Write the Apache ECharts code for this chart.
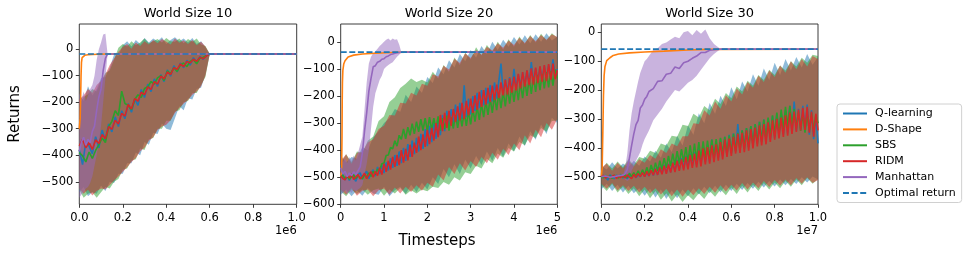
<!DOCTYPE html>
<html><head><meta charset="utf-8">
<script src="https://cdn.jsdelivr.net/npm/echarts@6.0.0/dist/echarts.min.js"></script>
<style>html,body{margin:0;padding:0;background:#fff}#c{width:969px;height:258px}</style>
</head><body><div id="c"></div>
<script>
// ---------- x grids (logged timesteps, in axis units: x1e6 / x1e6 / x1e7) ----------
function steps(start, step, n){const a=[];for(let i=0;i<n;i++)a.push(+(start+i*step).toFixed(4));return a;}

const names = ['Q-learning','D-Shape','SBS','RIDM','Manhattan','Optimal return'];
const titles = ['World Size 10','World Size 20','World Size 30'];
const optimal = [-18,-38,-58];
const yTicks1 = [-500,-400,-300,-200,-100,0];
const yTicks2 = [-600,-500,-400,-300,-200,-100,0];
const yTicks3 = [-500,-400,-300,-200,-100,0];

// ===== Panel 1 (World Size 10) =====
const p1X = steps(0,0.015,41).concat([1.0]);
const p1Q = [-380,-435,-350,-365,-395,-330,-372,-305,-345,-282,-312,-255,-292,-232,-262,-205,-238,-188,-212,-152,-182,-132,-160,-112,-140,-96,-122,-78,-102,-62,-86,-52,-70,-42,-60,-32,-48,-28,-38,-24,-18,-18];
const p1S = [-390,-402,-425,-388,-412,-382,-360,-335,-352,-292,-272,-232,-250,-158,-205,-212,-228,-190,-172,-182,-148,-142,-122,-132,-108,-100,-118,-82,-92,-70,-84,-60,-52,-66,-45,-40,-55,-34,-30,-24,-18,-18];
const p1R = [-365,-340,-372,-352,-378,-342,-356,-322,-338,-292,-302,-268,-282,-242,-252,-208,-226,-186,-196,-162,-172,-142,-152,-122,-132,-102,-112,-86,-96,-70,-76,-56,-66,-46,-52,-38,-46,-30,-36,-25,-18,-18];
const p1BX = steps(0,0.02,31);
const p1RUp = [-190,-175,-150,-165,-135,-120,-95,-60,-35,-10,8,20,2,25,12,30,18,35,22,38,28,18,40,24,34,20,35,15,28,10,-18];
const p1RLo = [-525,-545,-530,-552,-535,-525,-528,-512,-495,-480,-462,-445,-425,-410,-385,-372,-345,-332,-305,-292,-285,-268,-240,-222,-205,-192,-172,-160,-140,-100,-18];
const p1QUp = [-170,-195,-140,-175,-150,-110,-105,-70,-20,-25,15,30,10,35,20,42,25,40,30,45,20,35,45,30,40,25,42,20,30,8,-18];
const p1QLo = [-540,-520,-555,-540,-545,-515,-535,-500,-505,-470,-470,-430,-430,-390,-400,-350,-360,-315,-320,-280,-300,-305,-260,-215,-230,-185,-190,-150,-145,-95,-18];
const p1SUp = [-210,-180,-170,-150,-160,-120,-90,-80,-40,5,20,10,30,15,25,40,22,30,38,25,42,30,28,40,22,38,28,40,18,12,-18];
const p1SLo = [-530,-560,-545,-540,-560,-540,-520,-525,-500,-490,-455,-450,-420,-415,-375,-380,-340,-335,-300,-300,-270,-270,-235,-230,-200,-195,-165,-165,-135,-105,-18];
const p1MX = [0,0.01,0.02,0.03,0.04,0.05,0.06,0.07,0.08,0.09,0.1,0.11,0.12,0.13,1.0];
const p1M = [-385,-350,-332,-362,-340,-352,-310,-290,-230,-180,-150,-80,-35,-18,-18];
const p1MBX = [0,0.01,0.02,0.03,0.04,0.05,0.06,0.07,0.08,0.09,0.1,0.11,0.12,0.13];
const p1MUp = [-165,-190,-160,-195,-175,-150,-135,-100,-40,0,25,55,58,-18];
const p1MLo = [-560,-548,-540,-525,-520,-505,-480,-440,-400,-350,-290,-200,-110,-18];
const p1DX = [0,0.004,0.006,0.008,0.01,0.013,0.018,0.025,0.04,0.06,0.09,0.12,1.0];
const p1D = [-300,-260,-190,-100,-50,-32,-26,-23,-21,-20,-19,-18,-18];

// ===== Panel 2 (World Size 20) =====
const p2X = steps(0,0.05,101);
const p2R = [-495,-505,-510,-492,-503,-488,-508,-499,-490,-506,
 -497,-485,-505,-492,-480,-500,-478,-494,-465,-490,
 -450,-480,-440,-472,-425,-462,-418,-455,-400,-446,
 -395,-438,-380,-425,-372,-410,-350,-400,-342,-388,
 -325,-378,-318,-365,-300,-352,-270,-330,-262,-318,
 -255,-310,-248,-296,-238,-290,-225,-285,-218,-272,
 -210,-262,-198,-250,-185,-240,-178,-232,-170,-222,
 -162,-215,-158,-208,-150,-198,-140,-195,-135,-188,
 -128,-180,-118,-172,-112,-165,-105,-160,-98,-158,
 -95,-152,-90,-148,-86,-145,-82,-140,-80,-138,-105];
const p2Q = [-455,-492,-510,-496,-512,-488,-502,-515,-490,-484,
 -506,-490,-478,-505,-486,-472,-496,-462,-488,-455,
 -485,-445,-475,-430,-465,-418,-458,-405,-448,-392,
 -440,-378,-425,-365,-415,-355,-405,-340,-395,-322,
 -385,-310,-370,-300,-358,-285,-345,-270,-330,-255,
 -318,-248,-305,-232,-295,-225,-285,-160,-278,-210,
 -268,-200,-255,-188,-245,-178,-235,-170,-228,-160,
 -220,-150,-210,-145,-80,-190,-138,-185,-130,-180,
 -100,-172,-120,-165,-112,-160,-105,-155,-75,-150,
 -98,-145,-92,-140,-88,-138,-85,-132,-65,-130,-100];
const p2S = [-500,-492,-506,-496,-508,-499,-490,-505,-495,-501,
 -506,-490,-500,-484,-497,-478,-490,-470,-474,-450,
 -448,-420,-418,-390,-395,-365,-385,-345,-360,-322,
 -358,-315,-345,-302,-340,-295,-332,-285,-328,-282,
 -330,-278,-325,-282,-322,-275,-328,-282,-322,-272,
 -328,-278,-320,-270,-318,-265,-312,-260,-310,-255,
 -305,-248,-295,-240,-288,-228,-278,-218,-270,-208,
 -262,-198,-252,-188,-245,-182,-238,-172,-228,-165,
 -222,-158,-215,-150,-208,-142,-200,-135,-192,-128,
 -185,-122,-178,-118,-172,-112,-168,-108,-162,-102,-135];
const p2BX = steps(0,0.125,41);
const p2RUp = [-440,-415,-450,-410,-408,-372,-360,-322,-310,-270,-272,-225,-228,-188,-198,-155,-162,-120,-128,-88,-102,-62,-78,-42,-60,-30,-48,-18,-32,-5,-22,5,-12,15,-4,22,2,25,8,28,18];
const p2RLo = [-545,-565,-540,-568,-550,-545,-570,-548,-542,-565,-538,-560,-535,-555,-530,-550,-520,-535,-490,-512,-462,-488,-448,-475,-440,-462,-425,-448,-410,-435,-395,-418,-375,-400,-345,-375,-325,-352,-300,-325,-285];
const p2QUp = [-420,-445,-425,-432,-388,-400,-352,-330,-300,-282,-248,-258,-195,-222,-165,-188,-130,-152,-95,-120,-68,-95,-45,-72,-30,-58,-15,-45,0,-30,8,-18,18,-10,24,-5,28,0,32,5,20];
const p2QLo = [-565,-545,-570,-548,-568,-540,-560,-565,-535,-570,-548,-535,-562,-528,-555,-520,-545,-500,-525,-470,-500,-452,-488,-435,-468,-422,-455,-405,-440,-392,-425,-375,-405,-350,-385,-330,-362,-305,-340,-280,-300];
const p2SUp = [-448,-415,-445,-405,-410,-365,-350,-292,-275,-222,-205,-170,-155,-135,-148,-140,-150,-110,-135,-85,-110,-58,-85,-40,-65,-20,-50,-12,-38,0,-28,10,-18,20,-8,25,-2,30,5,32,15];
const p2SLo = [-552,-570,-545,-562,-545,-565,-548,-542,-568,-545,-560,-540,-565,-548,-560,-545,-552,-535,-540,-518,-528,-500,-512,-482,-488,-458,-468,-432,-448,-412,-428,-392,-405,-370,-382,-345,-355,-318,-332,-292,-290];
const p2MX = steps(0,0.05,29).concat([5]);
const p2M = [-465,-488,-478,-498,-484,-494,-480,-490,-476,-462,-410,-330,-262,-182,-135,-92,-88,-75,-72,-64,-62,-55,-52,-47,-45,-42,-40,-39,-38,-38];
const p2MBX = steps(0,0.05,29);
const p2MUp = [-420,-445,-430,-448,-425,-440,-420,-438,-410,-380,-350,-250,-150,-80,-55,-42,-35,-25,-15,-8,0,8,12,5,12,8,10,-10,-38];
const p2MLo = [-555,-560,-548,-562,-550,-558,-545,-552,-545,-540,-530,-490,-450,-400,-320,-240,-190,-165,-140,-125,-100,-92,-85,-80,-75,-65,-55,-48,-38];
const p2DX = [0,0.02,0.03,0.035,0.04,0.05,0.07,0.1,0.17,0.3,0.5,0.8,1.2,1.5,5];
const p2D = [-500,-480,-350,-220,-150,-105,-82,-70,-56,-49,-45,-42,-39,-38,-38];

// ===== Panel 3 (World Size 30) =====
const p3X = steps(0,0.01,101);
const p3R = [-500,-496,-505,-498,-504,-499,-495,-506,-498,-503,
 -497,-505,-494,-502,-507,-492,-503,-490,-500,-486,
 -500,-482,-498,-478,-495,-474,-494,-468,-492,-462,
 -490,-458,-486,-452,-484,-445,-480,-440,-478,-432,
 -475,-425,-470,-420,-468,-410,-465,-402,-458,-398,
 -455,-392,-450,-388,-445,-380,-440,-372,-432,-368,
 -428,-362,-420,-352,-418,-348,-415,-340,-410,-335,
 -402,-330,-395,-322,-392,-318,-388,-312,-380,-305,
 -372,-300,-368,-295,-362,-288,-358,-278,-352,-275,
 -345,-268,-340,-262,-338,-258,-348,-275,-362,-282,-340];
const p3Q = [-505,-496,-502,-512,-494,-500,-507,-495,-503,-492,
 -505,-496,-508,-494,-501,-490,-504,-493,-501,-485,
 -500,-486,-498,-478,-496,-472,-494,-466,-490,-460,
 -488,-456,-485,-450,-480,-442,-476,-436,-472,-428,
 -470,-420,-462,-415,-458,-405,-455,-398,-450,-390,
 -448,-372,-440,-382,-436,-370,-430,-362,-425,-355,
 -420,-350,-412,-318,-408,-340,-402,-332,-398,-325,
 -392,-318,-385,-310,-380,-302,-375,-298,-372,-290,
 -365,-282,-360,-278,-355,-270,-350,-255,-345,-240,
 -342,-265,-335,-255,-345,-250,-355,-270,-370,-290,-385];
const p3S = [-500,-504,-496,-503,-498,-506,-495,-501,-505,-494,
 -502,-492,-505,-488,-500,-486,-499,-480,-497,-476,
 -494,-468,-490,-460,-486,-452,-480,-445,-476,-436,
 -470,-428,-464,-420,-460,-412,-455,-405,-450,-398,
 -448,-392,-445,-386,-442,-380,-440,-378,-438,-375,
 -435,-372,-432,-370,-430,-366,-425,-362,-422,-358,
 -418,-352,-412,-348,-408,-340,-402,-332,-398,-325,
 -392,-318,-385,-310,-378,-302,-370,-295,-365,-288,
 -358,-278,-348,-268,-340,-258,-328,-255,-322,-265,
 -332,-275,-342,-280,-348,-285,-340,-278,-345,-285,-315];
const p3BX = steps(0,0.025,41);
const p3RUp = [-470,-455,-480,-452,-472,-445,-465,-440,-452,-425,-438,-405,-418,-385,-395,-360,-360,-315,-318,-270,-288,-240,-265,-218,-240,-195,-215,-172,-192,-150,-172,-132,-155,-115,-140,-100,-128,-92,-118,-82,-92];
const p3RLo = [-525,-542,-522,-548,-530,-550,-532,-555,-535,-558,-540,-562,-542,-568,-545,-570,-545,-565,-540,-560,-535,-556,-530,-552,-528,-548,-522,-545,-520,-540,-515,-536,-512,-532,-510,-530,-505,-525,-502,-522,-512];
const p3QUp = [-462,-475,-450,-472,-455,-468,-445,-462,-430,-448,-410,-435,-385,-415,-358,-392,-322,-355,-280,-315,-245,-282,-220,-255,-190,-232,-170,-205,-145,-185,-125,-165,-105,-148,-92,-132,-85,-122,-75,-112,-85];
const p3QLo = [-545,-525,-550,-528,-555,-532,-558,-540,-566,-542,-572,-545,-578,-548,-575,-545,-568,-540,-562,-535,-558,-532,-555,-528,-550,-525,-546,-522,-542,-518,-538,-515,-534,-510,-530,-508,-526,-502,-520,-500,-510];
const p3SUp = [-475,-452,-472,-448,-468,-440,-460,-432,-438,-410,-418,-385,-392,-358,-362,-320,-325,-282,-295,-255,-270,-230,-248,-210,-228,-188,-205,-168,-185,-148,-165,-130,-148,-115,-132,-100,-118,-88,-105,-78,-82];
const p3SLo = [-530,-550,-526,-555,-535,-560,-540,-568,-545,-575,-550,-580,-558,-586,-562,-588,-565,-582,-558,-578,-550,-570,-545,-565,-538,-560,-532,-555,-528,-550,-522,-545,-520,-540,-515,-535,-510,-530,-505,-525,-508];
const p3MX = [0,0.02,0.04,0.06,0.08,0.1,0.11,0.12,0.13,0.14,0.15,0.16,0.17,0.18,0.19,0.2,0.21,0.22,0.24,0.26,0.28,0.3,0.32,0.34,0.36,0.38,0.4,0.42,0.44,0.46,0.48,0.5,0.52,0.55,1.0];
const p3M = [-500,-498,-502,-500,-497,-495,-490,-475,-435,-392,-352,-320,-305,-262,-252,-232,-222,-205,-195,-170,-168,-145,-142,-120,-125,-105,-100,-90,-82,-70,-70,-62,-60,-58,-58];
const p3MBX = [0.1,0.11,0.12,0.13,0.14,0.15,0.16,0.17,0.18,0.19,0.2,0.21,0.22,0.24,0.26,0.28,0.3,0.32,0.34,0.36,0.38,0.4,0.42,0.44,0.46,0.48,0.5,0.52,0.55];
const p3MUp = [-495,-470,-420,-340,-280,-240,-205,-170,-140,-120,-100,-92,-82,-60,-55,-40,-35,-25,-15,-20,0,5,-10,8,-5,10,-20,-40,-58];
const p3MLo = [-505,-510,-515,-510,-480,-465,-445,-430,-415,-390,-370,-355,-340,-305,-285,-265,-240,-220,-200,-205,-190,-175,-165,-150,-130,-110,-90,-75,-58];
const p3DX = [0,0.004,0.007,0.01,0.013,0.017,0.025,0.04,0.055,0.08,0.13,0.2,0.29,0.4,0.49,1.0];
const p3D = [-500,-470,-350,-220,-150,-118,-98,-88,-80,-75,-71,-68,-65,-61,-59,-58];

// ---------- styling ----------
const FONT = '"DejaVu Sans", sans-serif';
const COL = {q:'#1f77b4', d:'#ff7f0e', s:'#2ca02c', r:'#d62728', m:'#9467bd'};
function rgba(hex,a){const n=parseInt(hex.slice(1),16);return `rgba(${n>>16},${(n>>8)&255},${n&255},${a})`;}

const panels = [
  {left:79.3, width:217.4, xMax:1, xInt:0.2, yMin:-585, yMax:95, yTicks:yTicks1, xFmt:v=>v.toFixed(1), off:'1e6',
   bands:[[p1BX,p1QUp,p1QLo,COL.q],[p1BX,p1SUp,p1SLo,COL.s],[p1BX,p1RUp,p1RLo,COL.r],[p1MBX,p1MUp,p1MLo,COL.m]],
   lines:[[names[0],p1X,p1Q,COL.q],[names[1],p1DX,p1D,COL.d],[names[2],p1X,p1S,COL.s],[names[3],p1X,p1R,COL.r],[names[4],p1MX,p1M,COL.m]]},
  {left:340.7, width:216.6, xMax:5, xInt:1, yMin:-600, yMax:66, yTicks:yTicks2, xFmt:v=>String(Math.round(v)), off:'1e6',
   bands:[[p2BX,p2QUp,p2QLo,COL.q],[p2BX,p2SUp,p2SLo,COL.s],[p2BX,p2RUp,p2RLo,COL.r],[p2MBX,p2MUp,p2MLo,COL.m]],
   lines:[[names[0],p2X,p2Q,COL.q],[names[1],p2DX,p2D,COL.d],[names[2],p2X,p2S,COL.s],[names[3],p2X,p2R,COL.r],[names[4],p2MX,p2M,COL.m]]},
  {left:601.3, width:216.7, xMax:1, xInt:0.2, yMin:-596, yMax:29, yTicks:yTicks3, xFmt:v=>v.toFixed(1), off:'1e7',
   bands:[[p3BX,p3QUp,p3QLo,COL.q],[p3BX,p3SUp,p3SLo,COL.s],[p3BX,p3RUp,p3RLo,COL.r],[p3MBX,p3MUp,p3MLo,COL.m]],
   lines:[[names[0],p3X,p3Q,COL.q],[names[1],p3DX,p3D,COL.d],[names[2],p3X,p3S,COL.s],[names[3],p3X,p3R,COL.r],[names[4],p3MX,p3M,COL.m]]}
];
const TOP = 24, HEIGHT = 180.3;
const yFmt = v => v < 0 ? '\u2212' + Math.abs(v) : String(v);

const grids=[], xAxes=[], yAxes=[], series=[], graphics=[];
panels.forEach((P,pi)=>{
  grids.push({left:P.left, top:TOP, width:P.width, height:HEIGHT, show:true, borderColor:'#262626', borderWidth:0.9, backgroundColor:'transparent'});
  xAxes.push({type:'value', gridIndex:pi, min:0, max:P.xMax, interval:P.xInt, position:'bottom',
    axisLine:{show:false, onZero:false}, splitLine:{show:false},
    axisTick:{show:true, length:3.5, lineStyle:{color:'#262626', width:0.9}},
    axisLabel:{fontFamily:FONT, fontSize:11.5, color:'#000', margin:7.5, formatter:P.xFmt, showMinLabel:true, showMaxLabel:true}});
  yAxes.push({type:'value', gridIndex:pi, min:P.yMin, max:P.yMax, position:'left',
    axisLine:{show:false, onZero:false}, splitLine:{show:false},
    axisTick:{show:true, length:3.5, customValues:P.yTicks, lineStyle:{color:'#262626', width:0.9}},
    axisLabel:{fontFamily:FONT, fontSize:11.5, color:'#000', margin:6, customValues:P.yTicks, formatter:yFmt}});
  P.bands.forEach(([xs,up,lo,c])=>{
    series.push({type:'custom', name:'band', xAxisIndex:pi, yAxisIndex:pi, silent:true, z:2,
      data:[[xs[0], up[0]]],
      renderItem:(params, api)=>{
        if(params.dataIndex!==0) return null;
        const pts=[];
        for(let i=0;i<xs.length;i++) pts.push(api.coord([xs[i], up[i]]));
        for(let i=xs.length-1;i>=0;i--) pts.push(api.coord([xs[i], lo[i]]));
        return {type:'polygon', shape:{points:pts}, style:{fill:rgba(c,0.5), stroke:null}};
      }});
  });
  P.lines.forEach(([nm,xs,ys,c])=>{
    series.push({type:'line', name:nm, xAxisIndex:pi, yAxisIndex:pi, z:3,
      data:xs.map((x,i)=>[x, ys[i]]), symbol:'none', showSymbol:false,
      lineStyle:{color:c, width:1.6}, itemStyle:{color:c}});
  });
  series.push({type:'line', name:names[5], xAxisIndex:pi, yAxisIndex:pi, z:4,
    data:[[0, optimal[pi]],[P.xMax, optimal[pi]]], symbol:'none', showSymbol:false,
    lineStyle:{color:COL.q, width:1.6, type:[6,2.6]}, itemStyle:{color:COL.q}});
  graphics.push({type:'text', x:P.left+P.width/2, y:13.5, silent:true,
    style:{text:titles[pi], font:'13px "DejaVu Sans"', fill:'#000', align:'center', verticalAlign:'middle', textAlign:'center', textVerticalAlign:'middle'}});
  graphics.push({type:'text', x:P.left+P.width, y:231, silent:true,
    style:{text:P.off, font:'11.5px "DejaVu Sans"', fill:'#000', align:'right', verticalAlign:'middle', textAlign:'right', textVerticalAlign:'middle'}});
});
graphics.push({type:'text', x:15, y:114, rotation:Math.PI/2, silent:true,
  style:{text:'Returns', font:'15px "DejaVu Sans"', fill:'#000', align:'center', verticalAlign:'middle', textAlign:'center', textVerticalAlign:'middle'}});
graphics.push({type:'text', x:437, y:241, silent:true,
  style:{text:'Timesteps', font:'15px "DejaVu Sans"', fill:'#000', align:'center', verticalAlign:'middle', textAlign:'center', textVerticalAlign:'middle'}});

const chart = echarts.init(document.getElementById('c'), null, {renderer:'canvas'});
chart.setOption({
  animation:false,
  backgroundColor:'#fff',
  grid:grids, xAxis:xAxes, yAxis:yAxes, series:series, graphic:graphics,
  legend:{data:names, orient:'vertical', left:837, top:104, itemWidth:24, itemHeight:12, itemGap:4.9,
    padding:[4,6,4,5], borderColor:'#d0d0d0', borderWidth:1, borderRadius:3, backgroundColor:'#fff',
    itemStyle:{opacity:0}, selectedMode:false,
    textStyle:{fontFamily:FONT, fontSize:11, color:'#000', padding:[0,0,0,3]}}
});
</script></body></html>
